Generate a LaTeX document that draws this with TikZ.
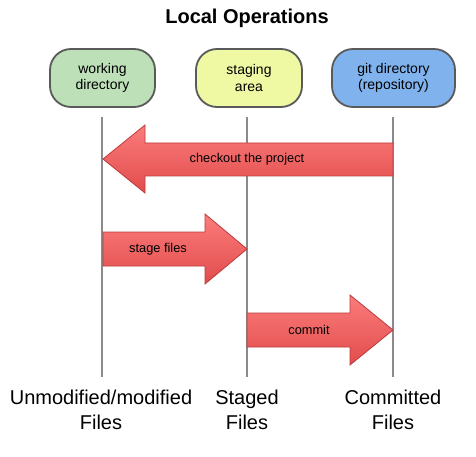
\documentclass[tikz,border=0pt]{standalone}
\usepackage{fontspec}
\setmainfont{Liberation Sans}
\definecolor{wdfill}{HTML}{BDE0B8}
\definecolor{safill}{HTML}{EFF8A2}
\definecolor{gdfill}{HTML}{80B3EE}
\definecolor{boxline}{HTML}{5A5A5A}
\definecolor{vline}{HTML}{8A8A8A}
\definecolor{arrtop}{HTML}{FB7C7C}
\definecolor{arrbot}{HTML}{E24C4C}
\definecolor{arrline}{HTML}{BC3C3C}
\begin{document}
\begin{tikzpicture}[x=1pt,y=-1pt,
  areabox/.style={draw=boxline, line width=1.8pt, rounded corners=21pt, align=center,
    minimum height=58pt, inner sep=0pt, font=\fontsize{14}{16.5}\selectfont},
  lifeline/.style={draw=vline, line width=1.7pt},
  bigarrow/.style={draw=arrline, line width=0.8pt, top color=arrtop, bottom color=arrbot, line join=miter},
  arrlabel/.style={font=\fontsize{12.8}{15}\selectfont, inner sep=0pt},
  filelabel/.style={align=center, inner sep=0pt, font=\fontsize{20}{25}\selectfont}]
\useasboundingbox (0,0) rectangle (476,457);
\fill[white] (0,0) rectangle (476,457);
\node[font=\bfseries\fontsize{20}{24}\selectfont, inner sep=0pt] (title) at (247,18) {Local Operations};
\node[areabox, fill=wdfill, minimum width=105pt] (wd) at (102.5,78) {working\\directory};
\node[areabox, fill=safill, minimum width=106pt] (sa) at (249,78) {staging\\area};
\node[areabox, fill=gdfill, minimum width=123pt] (gd) at (393.5,78) {git directory\\(repository)};
\coordinate (wdT) at (102,117); \coordinate (wdB) at (102,377);
\coordinate (saT) at (247,117); \coordinate (saB) at (247,377);
\coordinate (gdT) at (393,117); \coordinate (gdB) at (393,377);
\draw[lifeline] (wdT) -- (wdB);
\draw[lifeline] (saT) -- (saB);
\draw[lifeline] (gdT) -- (gdB);
% checkout arrow
\path[bigarrow] (393,143) -- (145,143) -- (145,125) -- (103,159) -- (145,193) -- (145,176) -- (393,176) -- cycle;
\node[arrlabel] (co) at (247,159) {checkout the project};
% stage arrow
\path[bigarrow] (103,232) -- (205,232) -- (205,214) -- (247,249) -- (205,284) -- (205,266) -- (103,266) -- cycle;
\node[arrlabel] (st) at (158,249) {stage files};
% commit arrow
\path[bigarrow] (247,313) -- (350,313) -- (350,295) -- (393,330) -- (350,365) -- (350,347) -- (247,347) -- cycle;
\node[arrlabel] (cm) at (309,330) {commit};
\node[filelabel] (f1) at (101,410) {Unmodified/modified\\Files};
\node[filelabel] (f2) at (247,410) {Staged\\Files};
\node[filelabel] (f3) at (393,410) {Committed\\Files};
\end{tikzpicture}
\end{document}
